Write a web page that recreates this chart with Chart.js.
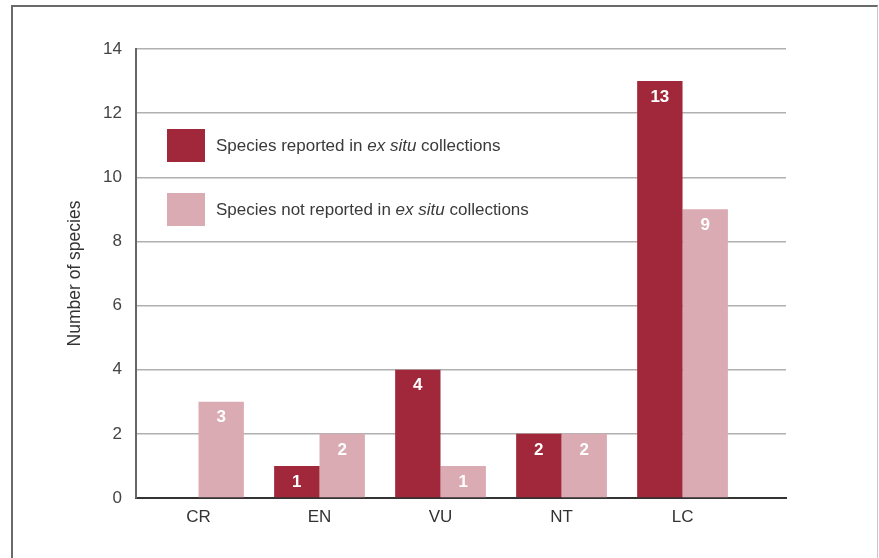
<!DOCTYPE html>
<html>
<head>
<meta charset="utf-8">
<script src="https://cdn.jsdelivr.net/npm/chart.js"></script>
<style>
  html, body { margin: 0; padding: 0; background: #fff; }
  body { width: 879px; height: 558px; position: relative; overflow: hidden; font-family: "Liberation Sans", Arial, sans-serif; }
  #frame { position: absolute; left: 11px; top: 5px; width: 864px; height: 600px;
           border-left: 2px solid #6a6a6a; border-top: 2px solid #6a6a6a; border-right: 1px solid #c8c8c8; }
  #chart { position: absolute; left: 0; top: 0; }
  .legend-item { position: absolute; left: 167px; height: 33px; display: flex; align-items: center; color: #3a3a3a; font-size: 17px; }
  .legend-item .swatch { width: 38px; height: 33px; margin-right: 11px; }
</style>
</head>
<body>
<div id="frame"></div>
<canvas id="chart" width="879" height="558"></canvas>
<div class="legend-item" style="top:129px"><span class="swatch" style="background:#a0283a"></span><span>Species reported in <i>ex situ</i> collections</span></div>
<div class="legend-item" style="top:193px"><span class="swatch" style="background:#dbabb3"></span><span>Species not reported in <i>ex situ</i> collections</span></div>
<script>
// --- Data ---
const categories = ['CR', 'EN', 'VU', 'NT', 'LC'];
const reportedValues = [0, 1, 4, 2, 13];
const notReportedValues = [3, 2, 1, 2, 9];
const yTicks = [0, 2, 4, 6, 8, 10, 12, 14];

const RED = '#a0283a';
const PINK = '#dbabb3';
const FONT = '"Liberation Sans", Arial, sans-serif';

const toPoints = (values) => values.map((v, i) => ({ x: i, y: v }));

// white value labels near the top of each bar
const barLabels = {
    id: 'barLabels',
    afterDatasetsDraw(chart) {
        const ctx = chart.ctx;
        ctx.save();
        ctx.fillStyle = '#fff';
        ctx.font = 'bold 17px ' + FONT;
        ctx.textAlign = 'center';
        ctx.textBaseline = 'middle';
        chart.data.datasets.forEach((ds, di) => {
            chart.getDatasetMeta(di).data.forEach((bar, i) => {
                const v = ds.data[i].y;
                if (v > 0) ctx.fillText(String(v), bar.x, bar.y + 16);
            });
        });
        ctx.restore();
    }
};

new Chart(document.getElementById('chart'), {
    type: 'bar',
    data: {
        datasets: [{
            label: 'Species reported in ex situ collections',
            data: toPoints(reportedValues),
            backgroundColor: RED,
            borderWidth: 0
        }, {
            label: 'Species not reported in ex situ collections',
            data: toPoints(notReportedValues),
            backgroundColor: PINK,
            borderWidth: 0
        }]
    },
    options: {
        responsive: false,
        animation: false,
        devicePixelRatio: 1,
        categoryPercentage: 0.75,
        barPercentage: 1.0,
        layout: { padding: { left: 0, top: 49, right: 93, bottom: 0 } },
        plugins: {
            legend: { display: false },
            tooltip: { enabled: false }
        },
        scales: {
            x: {
                type: 'linear',
                offset: false,
                min: -0.5165,
                max: 4.855,
                afterBuildTicks: (scale) => { scale.ticks = categories.map((c, i) => ({ value: i })); },
                afterFit: (scale) => { scale.height = 60; },
                ticks: {
                    callback: (v) => categories[v] ?? '',
                    color: '#333',
                    font: { family: FONT, size: 17 },
                    padding: 9,
                    maxRotation: 0
                },
                grid: { display: false, drawTicks: false, offset: false },
                border: { display: true, color: '#333', width: 2 }
            },
            y: {
                min: 0,
                max: 14,
                afterBuildTicks: (scale) => { scale.ticks = yTicks.map(v => ({ value: v })); },
                afterFit: (scale) => { scale.width = 136; },
                ticks: {
                    color: '#444',
                    font: { family: FONT, size: 17 },
                    padding: 14
                },
                grid: { color: '#b0b0b0', lineWidth: 1.5, drawTicks: false },
                border: { display: true, color: '#666', width: 2 },
                title: {
                    display: true,
                    text: 'Number of species',
                    color: '#333',
                    font: { family: FONT, size: 17.5 },
                    padding: { top: 65, bottom: 0 }
                }
            }
        }
    },
    plugins: [barLabels]
});
</script>
</body>
</html>
